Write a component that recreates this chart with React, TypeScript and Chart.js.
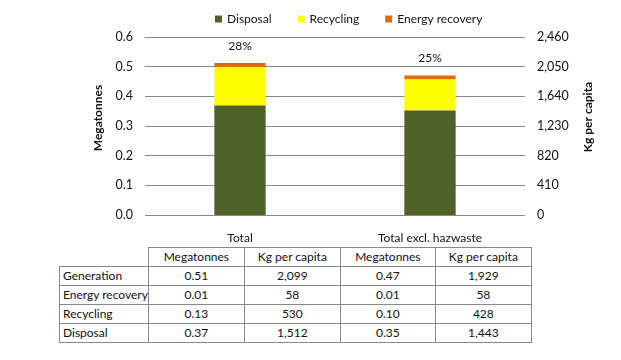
import React, { useEffect, useRef } from "react";
import { Chart, registerables } from "chart.js";

Chart.register(...registerables);

const categories = ["Total", "Total excl. hazwaste"];
const seriesLabels = ["Disposal", "Recycling", "Energy recovery"];
const seriesColors = ["#4F6228", "#FFFF00", "#E36C09"];
const disposalKg = [1512, 1443];
const recyclingKg = [530, 428];
const energyKg = [58, 58];
const generationKg = [2099, 1929];

const mtTicks = [0, 0.1, 0.2, 0.3, 0.4, 0.5, 0.6];
const kgTicks = [0, 410, 820, 1230, 1640, 2050, 2460];

const tableHeaders = ["", "Megatonnes", "Kg per capita", "Megatonnes", "Kg per capita"];
const rowLabels = ["Generation", "Energy recovery", "Recycling", "Disposal"];
const totalMt = ["0.51", "0.01", "0.13", "0.37"];
const totalKg = ["2,099", "58", "530", "1,512"];
const exclMt = ["0.47", "0.01", "0.10", "0.35"];
const exclKg = ["1,929", "58", "428", "1,443"];

const FONT = "Lato, 'Open Sans', sans-serif";
const GRID = "#888888";
const TEXT = "#111111";

export default function App() {
  const ref = useRef<HTMLCanvasElement | null>(null);

  useEffect(() => {
    if (!ref.current) return;
    const series = [disposalKg, recyclingKg, energyKg];

    const overlay = {
      id: "overlay",
      afterDatasetsDraw(chart: any) {
        const ctx = chart.ctx;
        ctx.save();
        const topMeta = chart.getDatasetMeta(chart.data.datasets.length - 1);
        ctx.font = `12px ${FONT}`;
        ctx.fillStyle = TEXT;
        ctx.textAlign = "center";
        ctx.textBaseline = "middle";
        categories.forEach((_, i) => {
          const el = topMeta.data[i];
          const pct = Math.round(((recyclingKg[i] + energyKg[i]) / generationKg[i]) * 100);
          ctx.fillText(`${pct}%`, el.x, el.y - 17);
        });
        ctx.textAlign = "left";
        let x = 215;
        const y = 19;
        seriesLabels.forEach((lab, i) => {
          ctx.fillStyle = seriesColors[i];
          ctx.fillRect(x, y - 3.5, 7, 7);
          ctx.fillStyle = TEXT;
          ctx.fillText(lab, x + 12, y);
          x += 12 + ctx.measureText(lab).width + 26;
        });
        ctx.font = `bold 12px ${FONT}`;
        ctx.textAlign = "center";
        ctx.save();
        ctx.translate(98, 118);
        ctx.rotate(-Math.PI / 2);
        ctx.fillText("Megatonnes", 0, 0);
        ctx.restore();
        ctx.save();
        ctx.translate(588, 117);
        ctx.rotate(-Math.PI / 2);
        ctx.fillText("Kg per capita", 0, 0);
        ctx.restore();
        ctx.restore();
      },
    };

    const chart = new Chart(ref.current, {
      type: "bar",
      data: {
        labels: categories,
        datasets: series.map((d, i) => ({
          label: seriesLabels[i],
          data: d,
          backgroundColor: seriesColors[i],
          borderWidth: 0,
          yAxisID: "yKg",
          barPercentage: 0.27,
          categoryPercentage: 1,
        })),
      },
      options: {
        responsive: false,
        animation: false,
        layout: { padding: { top: 37, left: 0, right: 0, bottom: 0 } },
        plugins: { legend: { display: false }, tooltip: { enabled: false } },
        scales: {
          x: {
            stacked: true,
            grid: { display: false },
            border: { display: false },
            ticks: { color: TEXT, font: { family: FONT, size: 12 }, padding: 8 },
            afterFit: (s: any) => {
              s.height = 30;
            },
          },
          y: {
            position: "left",
            min: 0,
            max: 0.6,
            afterBuildTicks: (s: any) => {
              s.ticks = mtTicks.map((v) => ({ value: v }));
            },
            grid: { color: GRID, drawTicks: false, lineWidth: 1 },
            border: { display: false },
            ticks: {
              color: TEXT,
              font: { family: FONT, size: 12.5 },
              padding: 12,
              callback: (v: any) => Number(v).toFixed(1),
            },
            afterFit: (s: any) => {
              s.width = 145;
            },
          },
          yKg: {
            position: "right",
            stacked: true,
            min: 0,
            max: 2460,
            afterBuildTicks: (s: any) => {
              s.ticks = kgTicks.map((v) => ({ value: v }));
            },
            grid: { display: false, drawTicks: false },
            border: { display: false },
            ticks: {
              color: TEXT,
              font: { family: FONT, size: 12.5 },
              padding: 12,
              callback: (v: any) => Number(v).toLocaleString("en-US"),
            },
            afterFit: (s: any) => {
              s.width = 96;
            },
          },
        },
      },
      plugins: [overlay],
    });
    return () => chart.destroy();
  }, []);

  const colWidths = [85, 96, 96, 95, 96];
  const cell: React.CSSProperties = {
    border: `1px solid ${GRID}`,
    height: 18,
    padding: 0,
    textAlign: "center",
    verticalAlign: "middle",
    whiteSpace: "nowrap",
  };
  const rows = rowLabels.map((lab, i) => [lab, totalMt[i], totalKg[i], exclMt[i], exclKg[i]]);

  return (
    <div style={{ position: "absolute", left: 0, top: 0, width: 621, height: 360, background: "#fff" }}>
      <canvas ref={ref} width={621} height={245} style={{ position: "absolute", left: 0, top: 0 }} />
      <table
        style={{
          position: "absolute",
          left: 59,
          top: 247,
          borderCollapse: "collapse",
          tableLayout: "fixed",
          fontFamily: FONT,
          fontSize: 12,
          lineHeight: "18px",
          color: TEXT,
        }}
      >
        <colgroup>
          {colWidths.map((w, i) => (
            <col key={i} style={{ width: w }} />
          ))}
        </colgroup>
        <tbody>
          <tr>
            {tableHeaders.map((h, i) => (
              <td key={i} style={i === 0 ? { ...cell, border: "none" } : cell}>
                {h}
              </td>
            ))}
          </tr>
          {rows.map((r, ri) => (
            <tr key={ri}>
              {r.map((v, ci) => (
                <td
                  key={ci}
                  style={ci === 0 ? { ...cell, textAlign: "left", paddingLeft: 3 } : cell}
                >
                  {v}
                </td>
              ))}
            </tr>
          ))}
        </tbody>
      </table>
    </div>
  );
}
